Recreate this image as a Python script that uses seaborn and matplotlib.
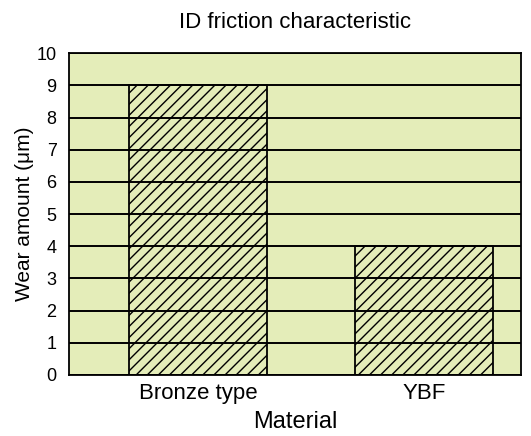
import matplotlib
matplotlib.use("Agg")
import matplotlib.pyplot as plt
import seaborn as sns
import pandas as pd

materials = ["Bronze type", "YBF"]
wear = [9, 4]
yticks = list(range(0, 11))

sns.set_theme(style="white")
plt.rcParams['font.family'] = ['Liberation Sans', 'DejaVu Sans']
plt.rcParams['hatch.linewidth'] = 1.0

bg = "#e4edb9"
fig = plt.figure(figsize=(5.31, 4.36), dpi=100)
ax = fig.add_axes([0.130, 0.14, 0.851, 0.738])
ax.set_facecolor(bg)

df = pd.DataFrame({"Material": materials, "Wear": wear})
sns.barplot(data=df, x="Material", y="Wear", ax=ax, color=bg, width=0.61,
            edgecolor="black", linewidth=1.3, saturation=1)
for p in ax.patches:
    p.set_hatch("///")
    p.set_facecolor(bg)

ax.set_xlim(-0.57, 1.43)
ax.set_ylim(0, 10)
ax.set_yticks(yticks)
ax.yaxis.grid(True, color="black", linewidth=1.4)
ax.set_axisbelow(False)
for s in ax.spines.values():
    s.set_color("black")
    s.set_linewidth(1.3)
ax.tick_params(axis="y", length=0, labelsize=13, colors="black", pad=9)
ax.tick_params(axis="x", length=0, labelsize=16, colors="black", pad=6)
ax.set_xlabel("Material", fontsize=17, color="black", labelpad=5)
ax.set_ylabel("Wear amount (\u03bcm)", fontsize=15, color="black", labelpad=2)
ax.set_title("ID friction characteristic", fontsize=16, color="black", pad=18)

fig.savefig("out.png", dpi=100)
